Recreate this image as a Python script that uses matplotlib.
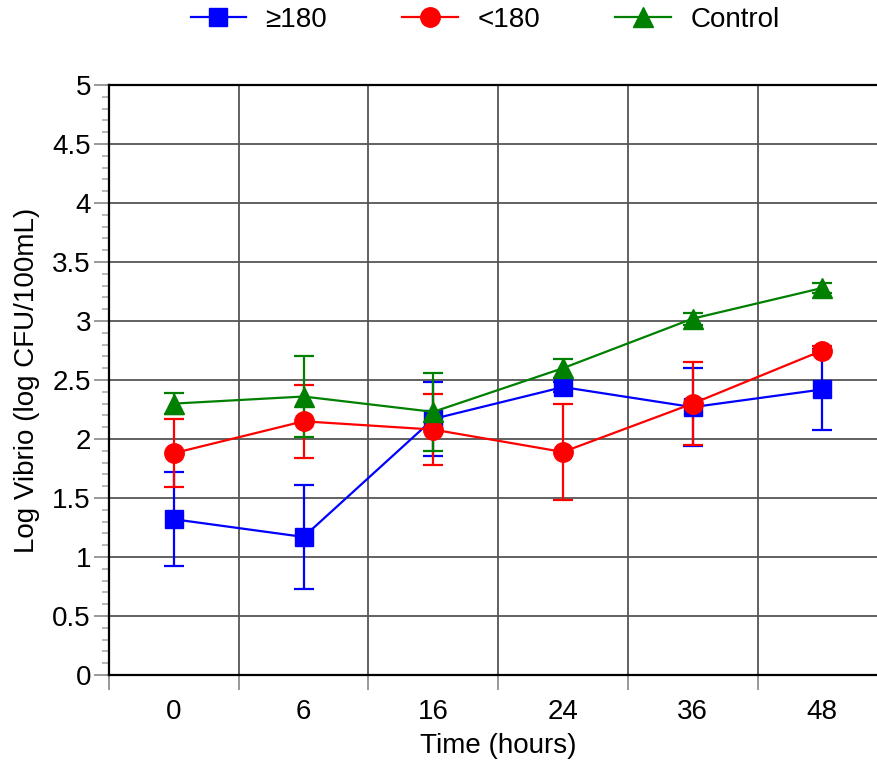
import numpy as np
import matplotlib
matplotlib.use('Agg')
import matplotlib.pyplot as plt
from matplotlib.lines import Line2D
from matplotlib.ticker import MultipleLocator, FormatStrFormatter

plt.rcParams['font.family'] = ['Liberation Sans', 'DejaVu Sans']

time_labels = ['0', '6', '16', '24', '36', '48']

high_mean = [1.32, 1.17, 2.17, 2.44, 2.27, 2.42]
high_err = [0.40, 0.44, 0.31, 0.04, 0.33, 0.34]

low_mean = [1.88, 2.15, 2.08, 1.89, 2.30, 2.75]
low_err = [0.29, 0.31, 0.30, 0.41, 0.35, 0.04]

ctrl_mean = [2.30, 2.36, 2.23, 2.60, 3.02, 3.28]
ctrl_err = [0.09, 0.34, 0.33, 0.08, 0.05, 0.04]

series = [
    ('≥180', high_mean, high_err, '#0000ff', 's', 13),
    ('<180', low_mean, low_err, '#ff0000', 'o', 14),
    ('Control', ctrl_mean, ctrl_err, '#008000', '^', 14),
]

fig = plt.figure(figsize=(8.77, 7.63), dpi=100)
ax = fig.add_axes([109 / 877, 88 / 763, 6 * 129.7 / 877, 590 / 763])

x = np.arange(len(time_labels))
handles = []
for name, m, e, c, mk, ms in series:
    ax.errorbar(x, m, yerr=e, color=c, marker=mk, markersize=ms,
                linewidth=1.6, elinewidth=1.6, capsize=7.5, capthick=1.6,
                zorder=3)
    handles.append(Line2D([], [], color=c, marker=mk, markersize=ms, linewidth=1.6))

ax.set_xlim(-0.5, 5.5)
ax.set_ylim(0, 5)

# category boundaries as major ticks, labels at centers
ax.set_xticks(np.arange(-0.5, 6.0, 1.0))
ax.set_xticklabels([])
ax.set_xticks(x, minor=True)
ax.set_xticklabels(time_labels, minor=True)
ax.tick_params(axis='x', which='major', direction='out', length=11, width=1.2, color='#888888')
ax.tick_params(axis='x', which='minor', length=0, pad=17, labelsize=20)

ax.yaxis.set_major_locator(MultipleLocator(0.5))
ax.yaxis.set_minor_locator(MultipleLocator(0.1))
ax.yaxis.set_major_formatter(FormatStrFormatter('%g'))
ax.tick_params(axis='y', which='major', direction='out', length=11, width=1.2, color='#888888',
               labelsize=20, pad=2)
ax.tick_params(axis='y', which='minor', direction='out', length=5, width=1.2, color='#aaaaaa')

ax.grid(True, which='major', color='#555555', linewidth=1.3, zorder=0)
ax.set_axisbelow(True)
for s in ['left', 'bottom', 'top']:
    ax.spines[s].set_linewidth(1.6)
    ax.spines[s].set_color('black')
ax.spines['right'].set_visible(False)

ax.set_xlabel('Time (hours)', fontsize=20, labelpad=6)
ax.set_ylabel('Log Vibrio (log CFU/100mL)', fontsize=20, labelpad=9)

fig.legend(handles=handles, labels=[s[0] for s in series], loc='center',
           bbox_to_anchor=(485 / 877, 1 - 20 / 763), ncol=3, frameon=False, fontsize=20,
           handlelength=2.0, columnspacing=2.7, handletextpad=0.7)

fig.savefig('out.png', dpi=100)
